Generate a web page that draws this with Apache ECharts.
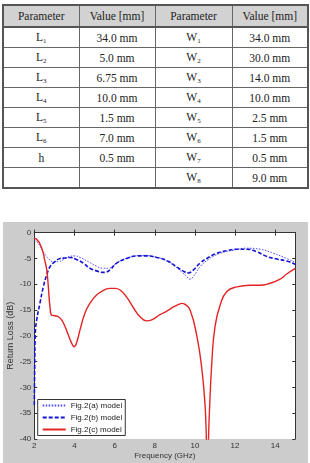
<!DOCTYPE html>
<html>
<head>
<meta charset="utf-8">
<script src="https://cdn.jsdelivr.net/npm/echarts@6/dist/echarts.min.js"></script>
<style>
    body { margin: 0; width: 310px; height: 463px; background: #fff; position: relative; overflow: hidden; }
    #params { position: absolute; left: 2px; top: 4px; width: 305px; border-collapse: collapse;
        font-family: 'Liberation Serif', 'DejaVu Serif', serif; font-size: 11.5px; color: #222;
        border: 2px solid #555; table-layout: fixed; }
    #params td, #params th { border: 1px solid #666; text-align: center; padding: 0; height: 19px; font-weight: normal; }
    #params th { background: #d2d2d2; height: 20px; border-bottom: 2px solid #555; }
    #params sub { font-size: 7px; vertical-align: -2px; }
    #chart { position: absolute; left: 3px; top: 222px; width: 305px; height: 241px; background: #cccccc; }
</style>
</head>
<body>
<table id="params"></table>
<div id="chart"></div>
<script>
(function() {
    'use strict';

    // table rows: [name, subscript, value]
    var paramL = [['L', '1', '34.0 mm'], ['L', '2', '5.0 mm'], ['L', '3', '6.75 mm'], ['L', '4', '10.0 mm'],
        ['L', '5', '1.5 mm'], ['L', '6', '7.0 mm'], ['h', '', '0.5 mm'], ['', '', '']];
    var paramW = [['W', '1', '34.0 mm'], ['W', '2', '30.0 mm'], ['W', '3', '14.0 mm'], ['W', '4', '10.0 mm'],
        ['W', '5', '2.5 mm'], ['W', '6', '1.5 mm'], ['W', '7', '0.5 mm'], ['W', '8', '9.0 mm']];

    // Fig.2(a) model (dotted)
    var freqA = [2, 2.2, 2.45, 2.7, 2.95, 3.2, 3.45, 3.78, 4.03, 4.28, 4.69, 5.1, 5.44, 5.69, 6.02, 6.43, 6.93,
        7.43, 7.93, 8.43, 8.93, 9.34, 9.59, 9.75, 9.92, 10.26, 10.67, 11.25, 11.92, 12.58, 13.25, 13.91, 14.57, 15];
    var lossA = [-1.4, -2.1, -3.7, -5.0, -5.6, -5.6, -5.2, -4.6, -4.5, -4.8, -5.6, -6.5, -6.9, -6.9, -6.1, -5.2, -4.6,
        -4.4, -4.6, -5.2, -6.3, -7.6, -8.5, -9.0, -8.5, -6.6, -5.2, -4.0, -3.4, -3.0, -3.2, -4.0, -5.0, -5.8];

    // Fig.2(b) model (dashed)
    var freqB = [2, 2.02, 2.05, 2.12, 2.28, 2.45, 2.62, 2.78, 3.03, 3.28, 3.5, 3.78, 4.1, 4.44, 4.77, 5.1, 5.4,
        5.6, 5.8, 6.1, 6.6, 7.1, 7.6, 8.1, 8.6, 9.09, 9.4, 9.67, 9.9, 10.26, 10.59, 11.09, 11.58, 12.08, 12.58,
        13.08, 13.58, 14.08, 14.57, 15];
    var lossB = [-33.4, -26, -19.5, -16.9, -13.7, -10.5, -8.2, -6.6, -5.6, -5.0, -4.9, -4.8, -5.2, -5.9, -6.9, -7.4, -7.7,
        -7.6, -7.1, -5.9, -5.0, -4.5, -4.5, -4.8, -5.4, -6.6, -7.4, -7.8, -7.3, -5.9, -5.0, -4.0, -3.5, -3.2, -3.2,
        -3.7, -4.6, -5.1, -5.5, -6.1];

    // Fig.2(c) model (solid red)
    var freqC = [2, 2.1, 2.37, 2.53, 2.62, 2.7, 2.78, 2.87, 3.03, 3.2, 3.36, 3.53, 3.69, 3.86, 3.98, 4.1, 4.28,
        4.52, 4.77, 5.1, 5.44, 5.77, 6.02, 6.27, 6.6, 6.93, 7.27, 7.6, 7.85, 8.26, 8.6, 8.93, 9.2, 9.35, 9.51,
        9.76, 10.1, 10.35, 10.51, 10.62, 10.72, 10.84, 11.0, 11.26, 11.59, 12.09, 12.75, 13.25, 13.74,
        14.24, 14.57, 15];
    var lossC = [-1.1, -1.2, -3.0, -5.5, -7.2, -10.5, -14.3, -16.0, -16.1, -16.3, -16.9, -18.2, -19.8, -21.4, -22.1, -21.4, -18.8,
        -15.6, -13.7, -12.1, -11.2, -10.8, -10.8, -11.1, -12.5, -14.5, -16.3, -17.1, -16.9, -15.9, -15.2, -14.4, -13.9, -13.7, -13.9,
        -15.0, -20.1, -26.6, -33.7, -44, -35, -25.3, -18.2, -14.0, -11.4, -10.5, -10.2, -10.2, -9.8,
        -9.0, -8.0, -6.9];

    var headers = ['Parameter', 'Value [mm]', 'Parameter', 'Value [mm]'];

    function cellName(p) {
        return p[0] + (p[1] ? '<sub>' + p[1] + '</sub>' : '');
    }

    var html = '<colgroup><col style="width:76px"><col style="width:76px"><col style="width:77px"><col style="width:76px"></colgroup>';
    html += '<tr>' + headers.map(function(h) { return '<th>' + h + '</th>'; }).join('') + '</tr>';
    for (var i = 0; i < paramL.length; i++) {
        html += '<tr><td>' + cellName(paramL[i]) + '</td><td>' + paramL[i][2] + '</td><td>' +
            cellName(paramW[i]) + '</td><td>' + paramW[i][2] + '</td></tr>';
    }
    document.getElementById('params').innerHTML = html;

    function pairs(xs, ys) {
        return xs.map(function(x, k) { return [x, ys[k]]; });
    }

    var labelFont = { fontFamily: 'Liberation Sans, Arial, sans-serif', fontSize: 8, color: '#333' };
    var axisLineStyle = { lineStyle: { color: '#333', width: 1 } };
    var tickStyle = { inside: true, length: 3, lineStyle: { color: '#333' } };

    var chart = echarts.init(document.getElementById('chart'), null, { renderer: 'canvas' });
    chart.setOption({
        animation: false,
        grid: {
            left: 31.3, top: 10.7, right: 12.7, bottom: 24, show: true, backgroundColor: '#fff', borderWidth: 0,
            containLabel: false, outerBoundsMode: 'none'
        },
        legend: {
            orient: 'vertical', left: 34.7, top: 177.5, padding: [2, 3, 2, 4],
            backgroundColor: '#fff', borderColor: '#333', borderWidth: 1,
            itemWidth: 23, itemHeight: 8, itemGap: 4,
            itemStyle: { opacity: 0 },
            textStyle: { fontFamily: 'Liberation Sans, Arial, sans-serif', fontSize: 8, color: '#222' },
            data: ['Fig.2(a) model', 'Fig.2(b) model', 'Fig.2(c) model']
        },
        xAxis: [{
            type: 'value', min: 2, max: 15, interval: 2, position: 'bottom',
            name: 'Frequency (GHz)', nameLocation: 'middle', nameGap: 13, nameMoveOverlap: false,
            nameTextStyle: labelFont,
            axisLine: axisLineStyle, axisTick: tickStyle, splitLine: { show: false },
            axisLabel: Object.assign({ margin: 3, showMaxLabel: false }, labelFont)
        }, {
            type: 'value', min: 2, max: 15, interval: 2, position: 'top',
            axisLine: axisLineStyle, axisTick: tickStyle, splitLine: { show: false }, axisLabel: { show: false }
        }],
        yAxis: [{
            type: 'value', min: -40, max: 0, interval: 5, position: 'left',
            name: 'Return Loss (dB)', nameLocation: 'middle', nameGap: 23.5, nameMoveOverlap: false, nameRotate: 90,
            nameTextStyle: Object.assign({}, labelFont, { align: 'center', verticalAlign: 'middle', fontSize: 9 }),
            axisLine: axisLineStyle, axisTick: tickStyle, splitLine: { show: false },
            axisLabel: Object.assign({ margin: 3 }, labelFont)
        }, {
            type: 'value', min: -40, max: 0, interval: 5, position: 'right',
            axisLine: axisLineStyle, axisTick: tickStyle, splitLine: { show: false }, axisLabel: { show: false }
        }],
        series: [{
            name: 'Fig.2(a) model', type: 'line', smooth: true, symbol: 'none', clip: true,
            lineStyle: { color: '#4a4aff', width: 1, type: [1.5, 1.5] }, itemStyle: { color: '#4a4aff' },
            data: pairs(freqA, lossA), z: 3
        }, {
            name: 'Fig.2(b) model', type: 'line', smooth: true, symbol: 'none', clip: true,
            lineStyle: { color: '#1414d2', width: 1.6, type: [4, 2] }, itemStyle: { color: '#1414d2' },
            data: pairs(freqB, lossB), z: 4
        }, {
            name: 'Fig.2(c) model', type: 'line', smooth: true, symbol: 'none', clip: true,
            lineStyle: { color: '#e42424', width: 1.4 }, itemStyle: { color: '#e42424' },
            data: pairs(freqC, lossC), z: 5
        }]
    });
})();
</script>
</body>
</html>
